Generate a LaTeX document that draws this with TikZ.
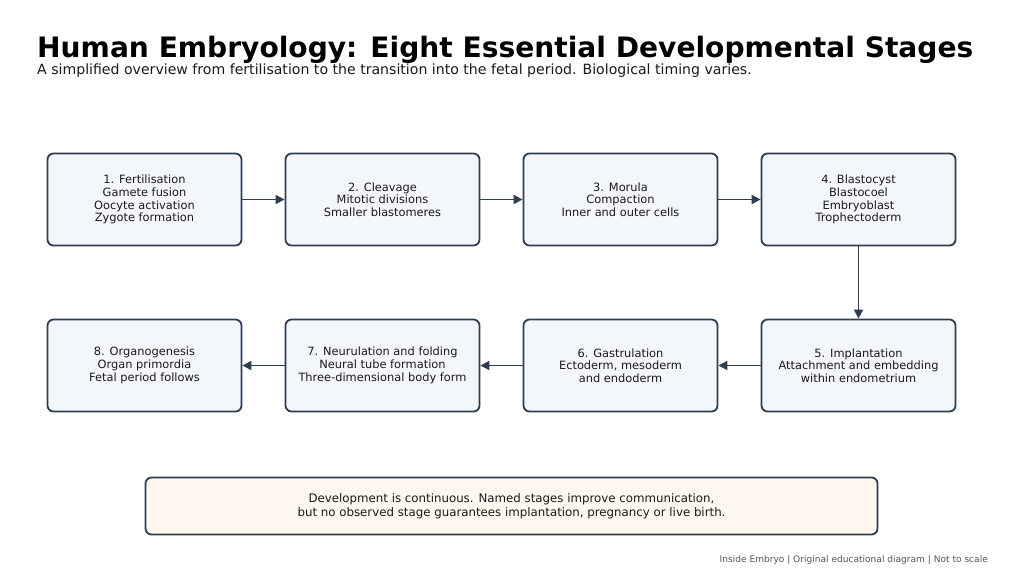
\documentclass[tikz,border=0pt]{standalone}
\usepackage{fontspec}
\setmainfont{DejaVu Sans}
\usetikzlibrary{arrows.meta}
\definecolor{boxfill}{HTML}{F3F6FA}
\definecolor{boxedge}{HTML}{2E3E50}
\definecolor{notefill}{HTML}{FEF7EE}
\definecolor{txt}{HTML}{1A1A1A}
\definecolor{foot}{HTML}{555555}
\tikzset{
  stagebox/.style={draw=boxedge, fill=boxfill, line width=1.8pt, rounded corners=6pt,
    minimum width=194pt, minimum height=92pt, inner sep=0pt, align=center,
    font=\fontsize{11.4}{12.7}\selectfont, text=txt},
  notebox/.style={draw=boxedge, fill=notefill, line width=1.8pt, rounded corners=6pt,
    minimum width=732pt, minimum height=57pt, inner sep=0pt, align=center,
    font=\fontsize{11.8}{14}\selectfont, text=txt},
  flow/.style={draw=boxedge, line width=1.8pt, -{Triangle[length=9pt,width=9pt]}},
}
\begin{document}
\begin{tikzpicture}[x=1pt,y=-1pt]
\useasboundingbox (0,0) rectangle (1024,579);
\fill[white] (0,0) rectangle (1024,579);
\node[anchor=base west, inner sep=0pt, font=\fontsize{28.1}{34}\selectfont\bfseries] (title) at (37,57) {Human Embryology: Eight Essential Developmental Stages};
\node[anchor=base west, inner sep=0pt, font=\fontsize{14.1}{16}\selectfont, text=txt] (subtitle) at (37,74) {A simplified overview from fertilisation to the transition into the fetal period. Biological timing varies.};

\node[stagebox] (s1) at (144.5,199.5) {1. Fertilisation\\Gamete fusion\\Oocyte activation\\Zygote formation};
\node[stagebox] (s2) at (382.5,199.5) {2. Cleavage\\Mitotic divisions\\Smaller blastomeres};
\node[stagebox] (s3) at (620.5,199.5) {3. Morula\\Compaction\\Inner and outer cells};
\node[stagebox] (s4) at (858.5,199.5) {4. Blastocyst\\Blastocoel\\Embryoblast\\Trophectoderm};
\node[stagebox] (s5) at (858.5,365.5) {5. Implantation\\Attachment and embedding\\within endometrium};
\node[stagebox] (s6) at (620.5,365.5) {6. Gastrulation\\Ectoderm, mesoderm\\and endoderm};
\node[stagebox] (s7) at (382.5,365.5) {7. Neurulation and folding\\Neural tube formation\\Three-dimensional body form};
\node[stagebox] (s8) at (144.5,365.5) {8. Organogenesis\\Organ primordia\\Fetal period follows};

\draw[flow] (s1) -- (s2);
\draw[flow] (s2) -- (s3);
\draw[flow] (s3) -- (s4);
\draw[flow] (s4) -- (s5);
\draw[flow] (s5) -- (s6);
\draw[flow] (s6) -- (s7);
\draw[flow] (s7) -- (s8);

\node[notebox] (note) at (511.5,506) {Development is continuous. Named stages improve communication,\\but no observed stage guarantees implantation, pregnancy or live birth.};

\node[anchor=base east, inner sep=0pt, font=\fontsize{9.05}{10}\selectfont, text=foot] (footer) at (988,562) {Inside Embryo | Original educational diagram | Not to scale};
\end{tikzpicture}
\end{document}
